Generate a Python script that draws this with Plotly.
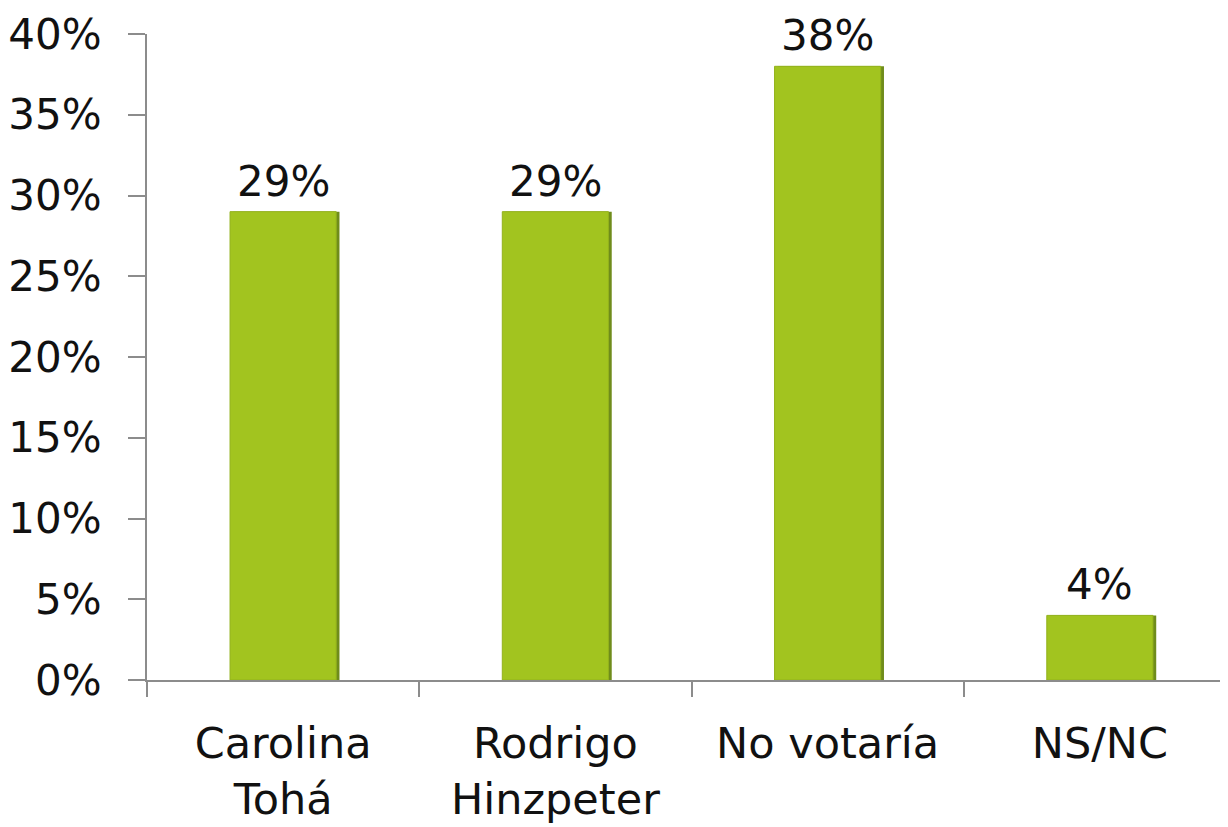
import plotly.graph_objects as go

categories = ["Carolina<br>Tohá", "Rodrigo<br>Hinzpeter", "No votaría", "NS/NC"]
values = [29, 29, 38, 4]
y_ticks = [0, 5, 10, 15, 20, 25, 30, 35, 40]
y_tick_labels = [f"{v}%" for v in y_ticks]

FONT = "'DejaVu Sans', sans-serif"
AXIS_GRAY = "#8c8c8c"
BAR_W = 0.39

fig = go.Figure()
# subtle shadow on the right edge
fig.add_trace(go.Bar(
    x=categories, y=values,
    width=BAR_W, offset=-BAR_W / 2 + 0.012,
    marker=dict(color="#6F8C1B", line=dict(width=0)),
    hoverinfo="skip",
))
fig.add_trace(go.Bar(
    x=categories, y=values,
    width=BAR_W, offset=-BAR_W / 2,
    marker=dict(color="#A2C41F", line=dict(color="#93B21C", width=1)),
    hoverinfo="skip",
))

for c, v in zip(categories, values):
    fig.add_annotation(x=c, y=v, text=f"{v}%", showarrow=False,
                       yanchor="bottom", yshift=5, borderpad=0,
                       font=dict(family=FONT, size=42, color="#111111"))

fig.update_layout(
    width=1228, height=827,
    margin=dict(l=139, r=0, t=26, b=155, autoexpand=False),
    paper_bgcolor="white", plot_bgcolor="white",
    showlegend=False,
    barmode="overlay",
    font=dict(family=FONT, size=42, color="#111111"),
)
fig.update_xaxes(
    type="category",
    range=[-0.5, 3.5],
    automargin=False,
    showline=True, linecolor=AXIS_GRAY, linewidth=2,
    ticks="outside", ticklen=15, tickwidth=2, tickcolor=AXIS_GRAY,
    tickson="boundaries",
    ticklabelstandoff=24,
    showgrid=False, zeroline=False,
    tickfont=dict(family=FONT, size=43, color="#111111"),
)
fig.update_yaxes(
    range=[0, 40],
    automargin=False,
    tickvals=y_ticks, ticktext=y_tick_labels,
    showline=True, linecolor=AXIS_GRAY, linewidth=2,
    ticks="outside", ticklen=17, tickwidth=2, tickcolor=AXIS_GRAY,
    ticklabelstandoff=18,
    showgrid=False, zeroline=False,
    tickfont=dict(family=FONT, size=42, color="#111111"),
)

fig.write_html("out.html")
